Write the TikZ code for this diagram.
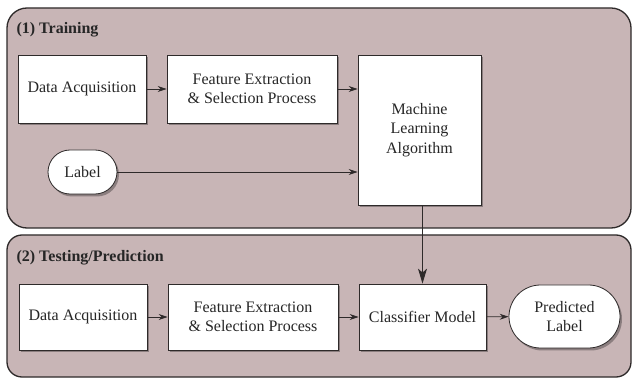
\documentclass[tikz,border=0pt]{standalone}
\usepackage{fontspec}
\setmainfont{Liberation Serif}
\usetikzlibrary{shapes.misc,shadows,arrows.meta}
\definecolor{panelfill}{HTML}{C8B5B6}
\definecolor{edge}{HTML}{2E2A2A}
\begin{document}
\begin{tikzpicture}[x=1pt,y=-1pt,
  panel/.style={draw=edge,line width=1.3pt,fill=panelfill},
  box/.style={draw=edge,line width=0.8pt,fill=white,align=center,
    inner sep=2pt,font=\fontsize{16}{19.5}\selectfont,text=black!85,
    drop shadow={shadow xshift=2pt,shadow yshift=-2.5pt,opacity=0.3,fill=black}},
  term/.style={box,rounded rectangle},
  flow/.style={draw=edge,line width=0.8pt,-{Stealth[length=9pt,width=6pt]}},
  bigflow/.style={draw=edge,line width=1pt,-{Stealth[length=15pt,width=9pt,inset=4pt]}},
  title/.style={anchor=west,font=\fontsize{16}{19}\selectfont\bfseries,text=black!85}]
\useasboundingbox (0,0) rectangle (632,379);
\fill[white] (0,0) rectangle (632,379);

% stage panels
\draw[panel,rounded corners=20pt] (7,8) rectangle (631,228);
\draw[panel,rounded corners=15pt] (7,235) rectangle (631,377);
\node[title] (t1) at (13,30) {(1) Training};
\node[title] (t2) at (13,258) {(2) Testing/Prediction};

% training stage
\node[box,minimum width=128pt,minimum height=68pt] (da1) at (82,89) {Data Acquisition};
\node[box,minimum width=170pt,minimum height=68pt] (fe1) at (252,89) {Feature Extraction\\\& Selection Process};
\node[box,minimum width=123pt,minimum height=150pt] (ml) at (419.5,130) {Machine\\Learning\\Algorithm};
\node[term,minimum width=73pt,minimum height=44pt] (lab) at (82.5,172) {Label};

% testing stage
\node[box,minimum width=128pt,minimum height=66pt] (da2) at (83,317) {Data Acquisition};
\node[box,minimum width=170pt,minimum height=66pt] (fe2) at (253,317) {Feature Extraction\\\& Selection Process};
\node[box,minimum width=127pt,minimum height=66pt] (cm) at (422.5,317) {Classifier Model};
\node[term,minimum width=115pt,minimum height=63pt] (pl) at (564.5,316.5) {Predicted\\Label};

% connectors
\draw[flow] (da1) -- (fe1);
\draw[flow] (fe1.east) -- (fe1.east -| ml.west);
\draw[flow] (lab.east) -- (lab.east -| ml.west);
\draw[bigflow] (ml.south -| cm.north) -- (cm.north);
\draw[flow] (da2) -- (fe2);
\draw[flow] (fe2) -- (cm);
\draw[flow] (cm) -- (pl);
\end{tikzpicture}
\end{document}
